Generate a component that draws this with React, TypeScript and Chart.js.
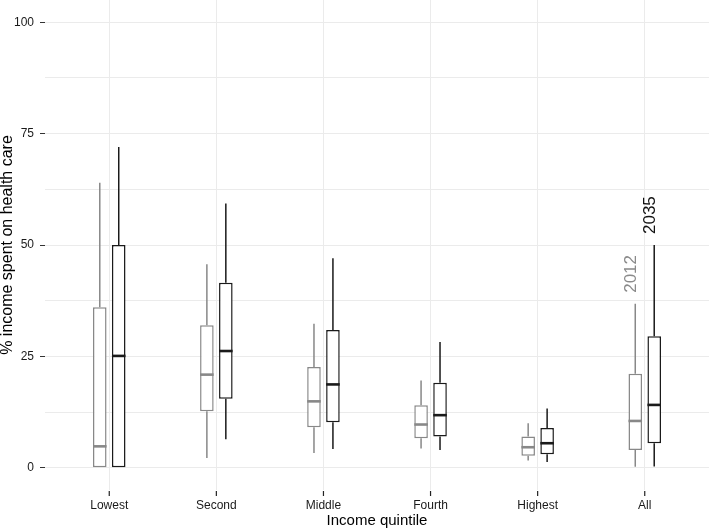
import React, { useEffect, useRef } from "react";
import { Chart, registerables } from "chart.js";

Chart.register(...registerables);

// ---- data ----
const categories = ["Lowest", "Second", "Middle", "Fourth", "Highest", "All"];
const seriesLabels = ["2012", "2035"];

const low2012 = [0, 2.2, 3.3, 4.3, 1.6, 0.2];
const q1_2012 = [0, 12.7, 9.1, 6.6, 2.7, 4.0];
const med2012 = [4.8, 20.9, 14.9, 9.7, 4.6, 10.5];
const q3_2012 = [36.0, 32.0, 22.6, 14.0, 7.0, 21.1];
const high2012 = [64.0, 45.7, 32.3, 19.6, 10.0, 36.8];

const low2035 = [0, 6.4, 4.2, 4.0, 1.3, 0.3];
const q1_2035 = [0, 15.5, 10.2, 7.0, 3.0, 5.5];
const med2035 = [25.1, 26.2, 18.7, 11.8, 5.5, 14.1];
const q3_2035 = [50.0, 41.5, 30.9, 19.1, 8.9, 29.5];
const high2035 = [72.0, 59.3, 47.0, 28.2, 13.3, 50.0];

const yMajorTicks = [0, 25, 50, 75, 100];
const yMinorTicks = [12.5, 37.5, 62.5, 87.5];

const stats = [
  { low: low2012, q1: q1_2012, med: med2012, q3: q3_2012, high: high2012 },
  { low: low2035, q1: q1_2035, med: med2035, q3: q3_2035, high: high2035 },
];

const colors = ["#888888", "#1a1a1a"];
const FONT = '"Liberation Sans", Arial, Helvetica, sans-serif';

const boxPlugin = {
  id: "boxWhiskers",
  afterDatasetsDraw(chart: any) {
    const ctx = chart.ctx;
    const y = chart.scales.y;
    const xs = chart.scales.x;

    // x-axis tick marks just below the panel
    const bottom = chart.chartArea.bottom;
    ctx.save();
    ctx.strokeStyle = "#222222";
    ctx.lineWidth = 1.2;
    categories.forEach((_, i) => {
      const px = xs.getPixelForValue(i);
      ctx.beginPath();
      ctx.moveTo(px, bottom + 1);
      ctx.lineTo(px, bottom + 6);
      ctx.stroke();
    });
    ctx.restore();

    chart.data.datasets.forEach((ds: any, di: number) => {
      const meta = chart.getDatasetMeta(di);
      const st = stats[di];
      ctx.save();
      ctx.strokeStyle = colors[di];
      ctx.lineCap = "butt";
      meta.data.forEach((el: any, i: number) => {
        const x = el.x;
        const w = el.width;
        ctx.lineWidth = 1.5;
        ctx.beginPath();
        ctx.moveTo(x, y.getPixelForValue(st.high[i]));
        ctx.lineTo(x, y.getPixelForValue(st.q3[i]));
        if (st.q1[i] > st.low[i]) {
          ctx.moveTo(x, y.getPixelForValue(st.q1[i]));
          ctx.lineTo(x, y.getPixelForValue(st.low[i]));
        }
        ctx.stroke();
        ctx.lineWidth = 2.6;
        const ym = y.getPixelForValue(st.med[i]);
        ctx.beginPath();
        ctx.moveTo(x - w / 2, ym);
        ctx.lineTo(x + w / 2, ym);
        ctx.stroke();
      });
      // series label above the "All" box
      const last = meta.data.length - 1;
      const el = meta.data[last];
      ctx.translate(el.x + 0.5, y.getPixelForValue(st.high[last]) - 11);
      ctx.rotate(-Math.PI / 2);
      ctx.textAlign = "left";
      ctx.textBaseline = "alphabetic";
      ctx.fillStyle = di === 0 ? "#8a8a8a" : "#111111";
      ctx.font = "17px " + FONT;
      ctx.fillText(seriesLabels[di], 0, 0);
      ctx.restore();
    });
  },
};

export default function App() {
  const ref = useRef<HTMLCanvasElement | null>(null);

  useEffect(() => {
    if (!ref.current) return;
    const datasets = stats.map((st, di) => ({
      label: seriesLabels[di],
      data: categories.map((_, i) => ({ x: i, y: [st.q1[i], st.q3[i]] })),
      backgroundColor: "#ffffff",
      borderColor: colors[di],
      borderWidth: 1.5,
      borderSkipped: false,
      categoryPercentage: 0.354,
      barPercentage: 0.716,
    }));

    const chart = new Chart(ref.current, {
      type: "bar",
      data: { datasets } as any,
      plugins: [boxPlugin],
      options: {
        animation: false,
        responsive: false,
        layout: { padding: 0 },
        plugins: {
          legend: { display: false },
          tooltip: { enabled: false },
        },
        scales: {
          x: {
            type: "linear",
            offset: false,
            min: -0.6,
            max: 5.6,
            afterBuildTicks: (scale: any) => {
              scale.ticks = categories.map((_, i) => ({ value: i }));
            },
            afterFit: (scale: any) => {
              scale.height = 38;
              scale.paddingLeft = 0;
              scale.paddingRight = 0;
            },
            border: { display: false },
            grid: {
              offset: false,
              color: "#ebebeb",
              lineWidth: 1,
              drawTicks: true,
              tickLength: 6,
              tickColor: "rgba(0,0,0,0)",
            },
            ticks: {
              padding: 2,
              color: "#1a1a1a",
              font: { family: FONT, size: 12 },
              maxRotation: 0,
              autoSkip: false,
              callback: (v: any) => categories[Math.round(Number(v))] ?? "",
            },
            title: {
              display: true,
              text: "Income quintile",
              color: "#000000",
              font: { family: FONT, size: 15, lineHeight: 1 },
              padding: 0,
            },
          },
          y: {
            type: "linear",
            min: -5,
            max: 105,
            afterBuildTicks: (scale: any) => {
              scale.ticks = [...yMajorTicks, ...yMinorTicks]
                .sort((a, b) => a - b)
                .map((v) => ({ value: v }));
            },
            afterFit: (scale: any) => {
              scale.width = 45;
              scale.paddingTop = 0;
              scale.paddingBottom = 0;
            },
            border: { display: false },
            grid: {
              color: "#ebebeb",
              lineWidth: 1,
              drawTicks: true,
              tickLength: 5,
              tickColor: (c: any) =>
                yMajorTicks.includes(c.tick?.value) ? "#333333" : "rgba(0,0,0,0)",
            },
            ticks: {
              padding: 6,
              color: "#1a1a1a",
              font: { family: FONT, size: 12 },
              callback: (v: any) => (yMajorTicks.includes(Number(v)) ? String(v) : ""),
            },
            title: {
              display: true,
              text: "% income spent on health care",
              color: "#000000",
              font: { family: FONT, size: 16, lineHeight: 1 },
              padding: 0,
            },
          },
        },
      } as any,
    });
    return () => chart.destroy();
  }, []);

  return (
    <div style={{ position: "absolute", left: 0, top: 0, width: 709, height: 528, background: "#ffffff" }}>
      <canvas ref={ref} width={709} height={528} style={{ display: "block" }} />
    </div>
  );
}
